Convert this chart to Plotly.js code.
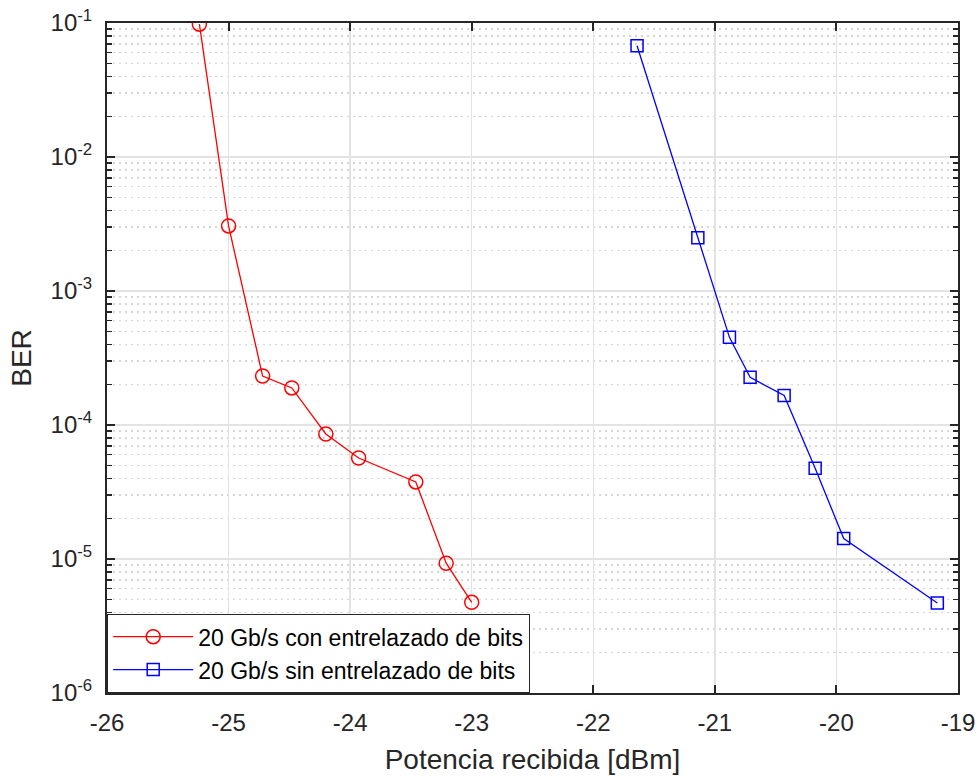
<!DOCTYPE html>
<html>
<head>
<meta charset="utf-8">
<script src="https://cdn.plot.ly/plotly-3.0.1.min.js"></script>
<style>html,body{margin:0;padding:0;background:#fff;}#chart{width:980px;height:776px;}</style>
</head>
<body>
<div id="chart"></div>
<script>
const seriesNames = ["20 Gb/s con entrelazado de bits", "20 Gb/s sin entrelazado de bits"];
const conX = [-25.24, -25.0, -24.72, -24.48, -24.2, -23.93, -23.46, -23.21, -23.0];
const conY = [0.098, 3.06e-3, 2.32e-4, 1.89e-4, 8.57e-5, 5.67e-5, 3.76e-5, 9.3e-6, 4.75e-6];
const sinX = [-21.64, -21.14, -20.88, -20.71, -20.43, -20.175, -19.94, -19.17];
const sinY = [0.0677, 2.5e-3, 4.51e-4, 2.27e-4, 1.66e-4, 4.75e-5, 1.42e-5, 4.7e-6];
const xTicks = [-26, -25, -24, -23, -22, -21, -20, -19];
const yTickVals = [1e-6, 1e-5, 1e-4, 1e-3, 1e-2, 1e-1];
const yTickText = ["10<sup>-6</sup>", "10<sup>-5</sup>", "10<sup>-4</sup>", "10<sup>-3</sup>", "10<sup>-2</sup>", "10<sup>-1</sup>"];

const fontFam = "Liberation Sans, Arial, sans-serif";
const traces = [
  {x: conX, y: conY, name: seriesNames[0], type: "scatter", mode: "lines+markers",
   line: {color: "#ff0000", width: 1.3},
   marker: {symbol: "circle-open", size: 14, color: "#ff0000", line: {width: 1.5, color: "#ff0000"}}},
  {x: sinX, y: sinY, name: seriesNames[1], type: "scatter", mode: "lines+markers",
   line: {color: "#0000ff", width: 1.3},
   marker: {symbol: "square-open", size: 12, color: "#0000ff", line: {width: 1.5, color: "#0000ff"}}}
];
const layout = {
  width: 980, height: 776,
  margin: {l: 107, r: 22, t: 23, b: 83},
  paper_bgcolor: "#fff", plot_bgcolor: "#fff",
  font: {family: fontFam, size: 24, color: "#262626"},
  showlegend: true,
  legend: {x: 0, y: 0, xanchor: "left", yanchor: "bottom", bgcolor: "#fff",
           bordercolor: "#262626", borderwidth: 1.2, font: {size: 23, color: "#000"},
           tracegroupgap: 0, itemwidth: 80},
  xaxis: {
    range: [-26, -19], tickvals: xTicks, ticktext: xTicks.map(String),
    showgrid: true, gridcolor: "#e3e3e3", gridwidth: 1.5,
    showline: true, linecolor: "#262626", linewidth: 2, mirror: "ticks",
    ticks: "inside", ticklen: 8, tickcolor: "#262626", tickwidth: 2,
    zeroline: false, ticklabelstandoff: 7,
    title: {text: "Potencia recibida [dBm]", font: {size: 28, color: "#262626"}, standoff: 15},
    tickfont: {size: 24, color: "#262626"}
  },
  yaxis: {
    type: "log", range: [-6, -1], tickvals: yTickVals, ticktext: yTickText,
    showgrid: true, gridcolor: "#e3e3e3", gridwidth: 1.5,
    showline: true, linecolor: "#262626", linewidth: 2, mirror: "ticks",
    ticks: "inside", ticklen: 8, tickcolor: "#262626", tickwidth: 2,
    zeroline: false, ticklabelstandoff: 8,
    minor: {dtick: "D1", showgrid: true, gridcolor: "#d6d6d6", griddash: "2px,4px", gridwidth: 1.5,
            ticks: "inside", ticklen: 5, tickcolor: "#262626", tickwidth: 1.5},
    title: {text: "BER", font: {size: 28, color: "#262626"}, standoff: 11},
    tickfont: {size: 24, color: "#262626"}
  }
};
Plotly.newPlot("chart", traces, layout, {displayModeBar: false, staticPlot: true});
</script>
</body>
</html>
